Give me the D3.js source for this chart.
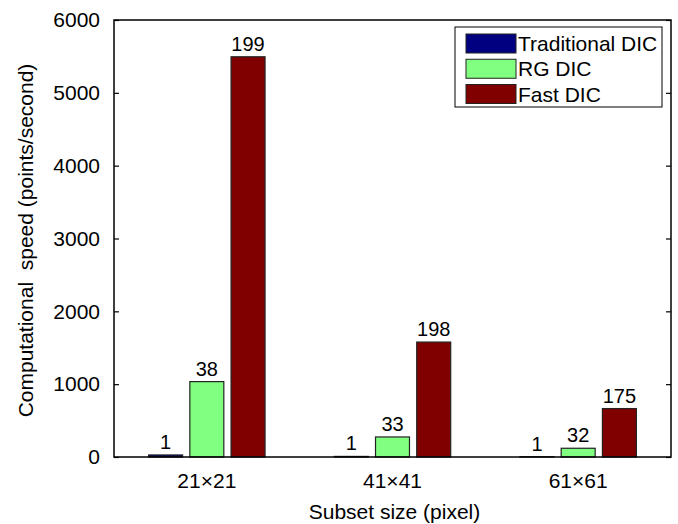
<!DOCTYPE html>
<html>
<head>
<meta charset="utf-8">
<script src="https://cdn.jsdelivr.net/npm/d3@7/dist/d3.min.js"></script>
<style>
  html, body { margin: 0; padding: 0; background: #fff; }
  svg { display: block; }
  text { font-family: "Liberation Sans", Arial, Helvetica, sans-serif; fill: #000; }
</style>
</head>
<body>
<svg id="chart" width="678" height="524"></svg>
<script>
// Subset sizes on the x axis
const categories = ["21×21", "41×41", "61×61"];
// Methods compared
const seriesNames = ["Traditional DIC", "RG DIC", "Fast DIC"];
const seriesColors = ["#000080", "#80ff80", "#800000"];
// Computational speed (points/second) per method, per subset size
const traditional = [28, 8, 3.8];
const rg = [1035, 275, 120];
const fast = [5495, 1578, 665];
// Speed-up ratios printed above the bars
const traditionalRatio = ["1", "1", "1"];
const rgRatio = ["38", "33", "32"];
const fastRatio = ["199", "198", "175"];
const yTicks = [0, 1000, 2000, 3000, 4000, 5000, 6000];

const series = [traditional, rg, fast];
const ratios = [traditionalRatio, rgRatio, fastRatio];

const svg = d3.select("#chart");
const margin = { left: 114, right: 7, top: 20, bottom: 67 };
const W = 678, H = 524;
const x0 = margin.left, x1 = W - margin.right;
const y0 = H - margin.bottom, y1 = margin.top;

const x = d3.scaleBand().domain(categories).range([x0, x1]).padding(0);
const y = d3.scaleLinear().domain([0, 6000]).range([y0, y1]);

// Offsets of the three bars inside each group
const step = x.bandwidth() * 0.222;
const barW = x.bandwidth() * 0.183;
const inner = d3.scaleLinear().domain([0, 2]).range([-step, step]);

const bars = [];
series.forEach((vals, s) => {
  vals.forEach((v, i) => {
    bars.push({ s, cat: categories[i], v, label: ratios[s][i] });
  });
});

const fontSize = 21;

// Bars
svg.append("g").selectAll("rect").data(bars).join("rect")
  .attr("x", d => x(d.cat) + x.bandwidth() / 2 + inner(d.s) - barW / 2)
  .attr("y", d => y(d.v))
  .attr("width", barW)
  .attr("height", d => y(0) - y(d.v))
  .attr("fill", d => seriesColors[d.s])
  .attr("stroke", "#222")
  .attr("stroke-width", 1.2);

// Ratio labels
svg.append("g").selectAll("text").data(bars).join("text")
  .attr("x", d => x(d.cat) + x.bandwidth() / 2 + inner(d.s))
  .attr("y", d => y(d.v) - 6)
  .attr("text-anchor", "middle")
  .attr("font-size", 20)
  .text(d => d.label);

// Axes box
const axisG = svg.append("g");
axisG.append("rect")
  .attr("x", x0).attr("y", y1)
  .attr("width", x1 - x0).attr("height", y0 - y1)
  .attr("fill", "none").attr("stroke", "#000").attr("stroke-width", 1.5);

// Left y axis with inward ticks
const yAxis = d3.axisLeft(y).tickValues(yTicks).tickSize(-5).tickPadding(14).tickFormat(d3.format("d"));
const gy = axisG.append("g").attr("transform", `translate(${x0},0)`).call(yAxis);
gy.select(".domain").remove();
gy.selectAll("line").attr("stroke", "#000").attr("stroke-width", 1.2);
gy.selectAll("text").attr("font-size", fontSize).attr("font-family", "Liberation Sans, Arial, sans-serif").attr("fill", "#000");

// Right y axis ticks (mirror)
const gyr = axisG.append("g").attr("transform", `translate(${x1},0)`)
  .call(d3.axisRight(y).tickValues(yTicks).tickSize(-5).tickFormat(""));
gyr.select(".domain").remove();
gyr.selectAll("line").attr("stroke", "#000").attr("stroke-width", 1.2);

// Bottom x axis labels
const xAxis = d3.axisBottom(x).tickSize(0).tickPadding(16);
const gx = axisG.append("g").attr("transform", `translate(0,${y0})`).call(xAxis);
gx.select(".domain").remove();
gx.selectAll("text").attr("font-size", fontSize).attr("font-family", "Liberation Sans, Arial, sans-serif").attr("fill", "#000");

// Axis titles
svg.append("text")
  .attr("x", (x0 + x1) / 2 + 2).attr("y", 519)
  .attr("text-anchor", "middle").attr("font-size", fontSize)
  .text("Subset size (pixel)");

svg.append("text")
  .attr("transform", `translate(33,${(y0 + y1) / 2 + 2}) rotate(-90)`)
  .attr("text-anchor", "middle").attr("font-size", fontSize)
  .attr("xml:space", "preserve")
  .style("white-space", "pre")
  .text("Computational  speed (points/second)");

// Legend
const leg = svg.append("g");
leg.append("rect")
  .attr("x", 455).attr("y", 27).attr("width", 207).attr("height", 80)
  .attr("fill", "#fff").attr("stroke", "#000").attr("stroke-width", 1);
const rowY = d3.scalePoint().domain(seriesNames).range([43.5, 94]);
const rows = leg.selectAll("g.row").data(seriesNames).join("g").attr("class", "row");
rows.append("rect")
  .attr("x", 466).attr("y", d => rowY(d) - 9.5)
  .attr("width", 50).attr("height", 19)
  .attr("fill", (d, i) => seriesColors[i])
  .attr("stroke", "#222").attr("stroke-width", 1);
rows.append("text")
  .attr("x", 518).attr("y", d => rowY(d) + 7.5)
  .attr("font-size", fontSize)
  .text(d => d);
</script>
</body>
</html>
